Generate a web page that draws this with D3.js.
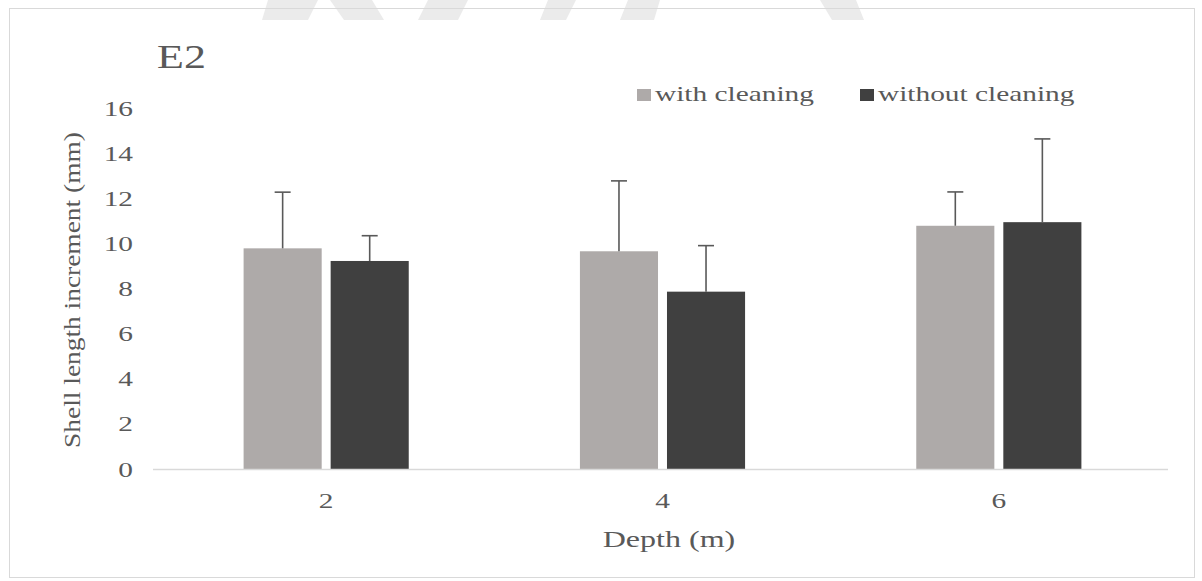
<!DOCTYPE html>
<html>
<head>
<meta charset="utf-8">
<script src="https://cdn.jsdelivr.net/npm/d3@7"></script>
<style>
  html, body { margin: 0; padding: 0; background: #ffffff; }
  svg { display: block; }
  svg text { font-family: "Liberation Serif", "Tinos", "Times New Roman", serif !important; fill: #595959; }
</style>
</head>
<body>
<svg id="chart" width="1202" height="581"></svg>
<script>
// ---- data ----
const depths = ["2", "4", "6"];
const seriesNames = ["with cleaning", "without cleaning"];
const withCleaning = [9.78, 9.65, 10.78];
const withCleaningErr = [2.49, 3.12, 1.50];
const withoutCleaning = [9.22, 7.86, 10.94];
const withoutCleaningErr = [1.12, 2.04, 3.69];
const yTicks = [0, 2, 4, 6, 8, 10, 12, 14, 16];
const chartTitle = "E2";
const xTitle = "Depth (m)";
const yTitle = "Shell length increment (mm)";

const values = [withCleaning, withoutCleaning];
const errors = [withCleaningErr, withoutCleaningErr];
const colors = ["#aeaaa9", "#404040"];

const svg = d3.select("#chart");

// measure font to derive horizontal glyph stretch matching the reference
const probe = svg.append("text").style("font-size", "22px").text("with cleaning");
const measured = probe.node().getComputedTextLength() || 123;
probe.remove();
const SX = 159 / measured;
const probe2 = svg.append("text").style("font-size", "24px").text(yTitle);
const measuredY = probe2.node().getComputedTextLength() || 277;
probe2.remove();
const SY = 316 / measuredY;

// watermark fragments at the top edge
const wm = [[268,0,318,0,308,20,262,20],[330,0,372,0,384,20,344,20],[428,0,468,0,458,20,418,20],[548,0,576,0,566,20,540,20],[628,0,660,0,654,20,620,20],[820,0,856,0,864,20,832,20]];
svg.selectAll("polygon.wm").data(wm).join("polygon")
  .attr("class", "wm")
  .attr("points", d => d3.range(0, d.length, 2).map(i => d[i] + "," + d[i+1]).join(" "))
  .attr("fill", "#ebebeb");

// outer frame
svg.append("rect").attr("x", 9.5).attr("y", 8.5).attr("width", 1185).attr("height", 569)
  .attr("fill", "none").attr("stroke", "#d9d9d9").attr("stroke-width", 1);

// scales
const x0 = d3.scaleBand().domain(depths).range([158, 1167]).paddingInner(0.509).paddingOuter(0.2545);
const x1 = d3.scaleBand().domain(seriesNames).range([0, x0.bandwidth()]).paddingInner(0.103);
const y = d3.scaleLinear().domain([0, 16]).range([469, 108]);

// y axis (labels only)
const yAxis = svg.append("g").attr("transform", "translate(153,0)")
  .call(d3.axisLeft(y).tickValues(yTicks).tickSize(0).tickPadding(20 / SX));
yAxis.attr("font-family", null);
yAxis.select(".domain").remove();
yAxis.selectAll("text")
  .style("font-size", "22px").attr("fill", "#595959")
  .attr("transform", `scale(${SX},1)`);

// bars
const groups = svg.append("g").selectAll("g").data(depths).join("g")
  .attr("transform", d => `translate(${x0(d)},0)`);

seriesNames.forEach((s, si) => {
  groups.append("rect")
    .attr("x", x1(s))
    .attr("width", x1.bandwidth())
    .attr("y", (d, i) => y(values[si][i]))
    .attr("height", (d, i) => y(0) - y(values[si][i]))
    .attr("fill", colors[si]);
});

// error bars
const capW = 16;
seriesNames.forEach((s, si) => {
  const cx = x1(s) + x1.bandwidth() / 2;
  groups.append("line")
    .attr("x1", cx).attr("x2", cx)
    .attr("y1", (d, i) => y(values[si][i]))
    .attr("y2", (d, i) => y(values[si][i] + errors[si][i]))
    .attr("stroke", "#595959").attr("stroke-width", 1.6);
  groups.append("line")
    .attr("x1", cx - capW / 2).attr("x2", cx + capW / 2)
    .attr("y1", (d, i) => y(values[si][i] + errors[si][i]))
    .attr("y2", (d, i) => y(values[si][i] + errors[si][i]))
    .attr("stroke", "#595959").attr("stroke-width", 1.6);
});

// x axis
const xAxis = svg.append("g").attr("transform", `translate(0,${y(0)})`)
  .call(d3.axisBottom(x0).tickSize(0).tickPadding(23));
xAxis.attr("font-family", null);
xAxis.select(".domain").remove();
xAxis.selectAll("text")
  .style("font-size", "22px").attr("fill", "#595959")
  .attr("transform", `scale(${SX},1)`)
  .attr("x", 0);
svg.append("line").attr("x1", 153).attr("x2", 1168).attr("y1", y(0) + 0.5).attr("y2", y(0) + 0.5)
  .attr("stroke", "#d9d9d9").attr("stroke-width", 1.5);

// helper for stretched text
function stext(x, yy, str, size, anchor) {
  return svg.append("text")
    .attr("transform", `translate(${x},${yy}) scale(${SX},1)`)
    .attr("text-anchor", anchor || "start")
    .style("font-size", size + "px")
    .text(str);
}

// title
stext(157, 68, chartTitle, 33, "start");

// x title
stext(669, 547, xTitle, 24, "middle");

// y title
svg.append("text")
  .attr("transform", `translate(80,290) rotate(-90) scale(${SY},1)`)
  .attr("text-anchor", "middle")
  .style("font-size", "24px")
  .text(yTitle);

// legend
const legendX = [637, 860];
seriesNames.forEach((s, si) => {
  svg.append("rect").attr("x", legendX[si]).attr("y", 89).attr("width", 14).attr("height", 12)
    .attr("fill", colors[si]);
  stext(legendX[si] + 18, 101, s, 22, "start");
});
</script>
</body>
</html>
